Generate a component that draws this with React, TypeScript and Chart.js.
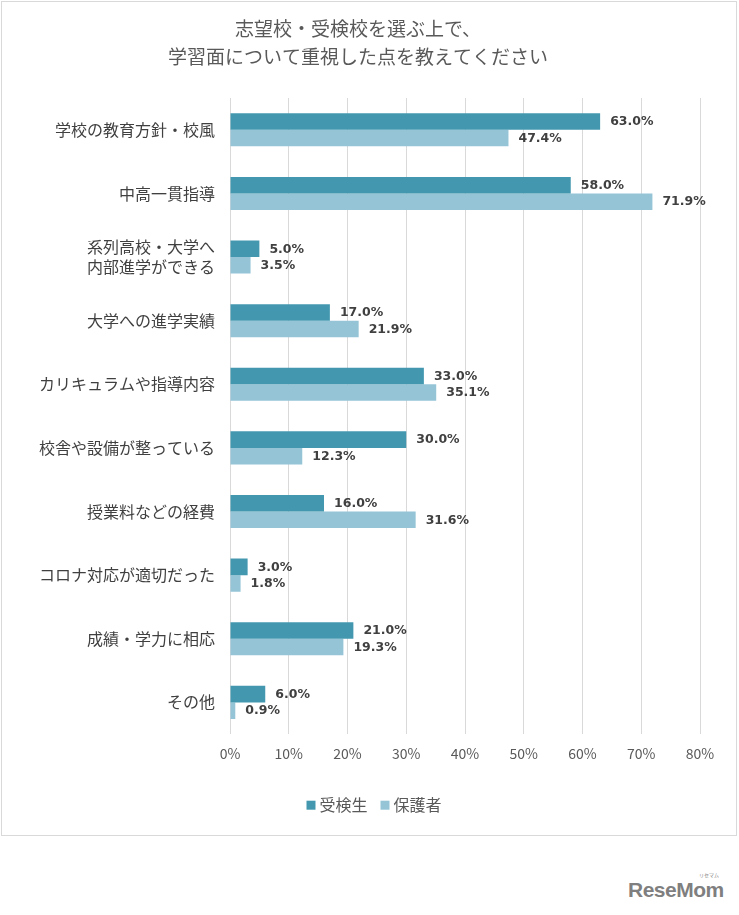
import React, { useEffect, useRef } from "react";
import { Chart, registerables } from "chart.js";

Chart.register(...registerables);

const titleLines = ["志望校・受検校を選ぶ上で、", "学習面について重視した点を教えてください"];
const categories: (string | string[])[] = [
  "学校の教育方針・校風",
  "中高一貫指導",
  ["系列高校・大学へ", "内部進学ができる"],
  "大学への進学実績",
  "カリキュラムや指導内容",
  "校舎や設備が整っている",
  "授業料などの経費",
  "コロナ対応が適切だった",
  "成績・学力に相応",
  "その他",
];
const seriesNames = ["受検生", "保護者"];
const examinees = [63.0, 58.0, 5.0, 17.0, 33.0, 30.0, 16.0, 3.0, 21.0, 6.0];
const guardians = [47.4, 71.9, 3.5, 21.9, 35.1, 12.3, 31.6, 1.8, 19.3, 0.9];
const xMin = 0;
const xMax = 80;
const xStep = 10;

const DARK = "#4398b0";
const LIGHT = "#94c4d6";
const JP = "'Noto Sans CJK JP', 'Noto Sans', sans-serif";

const valueLabels = {
  id: "valueLabels",
  afterDatasetsDraw(chart: any) {
    const ctx = chart.ctx;
    ctx.save();
    ctx.font = "bold 12.5px 'DejaVu Sans', sans-serif";
    ctx.fillStyle = "#404040";
    ctx.textAlign = "left";
    ctx.textBaseline = "middle";
    chart.data.datasets.forEach((ds: any, di: number) => {
      const meta = chart.getDatasetMeta(di);
      meta.data.forEach((bar: any, i: number) => {
        const v = ds.data[i] as number;
        ctx.fillText(v.toFixed(1) + "%", bar.x + 10, bar.y + 0.5);
      });
    });
    ctx.restore();
  },
};

const customLegend = {
  id: "customLegend",
  afterDraw(chart: any) {
    const ctx = chart.ctx;
    const area = chart.chartArea;
    ctx.save();
    ctx.font = "16px " + JP;
    ctx.textBaseline = "middle";
    ctx.textAlign = "left";
    const box = 9;
    const gapBoxText = 4;
    const gapItems = 13;
    const items = chart.data.datasets.map((ds: any) => ({
      text: ds.label as string,
      color: ds.backgroundColor as string,
      w: ctx.measureText(ds.label).width,
    }));
    const total =
      items.reduce((s: number, it: any) => s + box + gapBoxText + it.w, 0) + gapItems * (items.length - 1);
    const cx = 374;
    const cy = area.bottom + 71;
    let x = cx - total / 2;
    items.forEach((it: any) => {
      ctx.fillStyle = it.color;
      ctx.fillRect(x, cy - box / 2, box, box);
      x += box + gapBoxText;
      ctx.fillStyle = "#595959";
      ctx.fillText(it.text, x, cy);
      x += it.w + gapItems;
    });
    ctx.restore();
  },
};

const shiftBlocks = {
  id: "shiftBlocks",
  afterLayout(chart: any) {
    if (chart.titleBlock) {
      chart.titleBlock.left += 8;
      chart.titleBlock.right += 8;
    }
  },
};

export default function App() {
  const ref = useRef<HTMLCanvasElement>(null);
  useEffect(() => {
    if (!ref.current) return;
    const chart = new Chart(ref.current, {
      type: "bar",
      data: {
        labels: categories,
        datasets: [
          {
            label: seriesNames[0],
            data: examinees,
            backgroundColor: DARK,
            borderWidth: 0,
            categoryPercentage: 0.52,
            barPercentage: 1.0,
          },
          {
            label: seriesNames[1],
            data: guardians,
            backgroundColor: LIGHT,
            borderWidth: 0,
            categoryPercentage: 0.52,
            barPercentage: 1.0,
          },
        ],
      },
      options: {
        indexAxis: "y",
        responsive: false,
        animation: false,
        devicePixelRatio: 1,
        layout: { padding: { left: 0, right: 39, top: 0, bottom: 62 } },
        scales: {
          x: {
            min: xMin,
            max: xMax,
            ticks: {
              stepSize: xStep,
              callback: (v: any) => v + "%",
              color: "#595959",
              font: { family: JP, size: 14 },
              padding: 11,
            },
            grid: { color: "#d9d9d9", drawTicks: false, lineWidth: 1 },
            border: { display: false },
          },
          y: {
            ticks: {
              color: "#404040",
              font: { family: JP, size: 16, lineHeight: 1.25 },
              padding: 15,
            },
            grid: { display: false, drawTicks: false },
            border: { display: false },
            afterFit: (scale: any) => {
              scale.width = 230;
            },
          },
        },
        plugins: {
          title: {
            display: true,
            text: titleLines,
            color: "#595959",
            font: { family: JP, size: 19, weight: "normal", lineHeight: 28 / 19 },
            padding: { top: 15, bottom: 27 },
          },
          legend: { display: false },
          tooltip: { enabled: false },
        },
      } as any,
      plugins: [valueLabels, customLegend, shiftBlocks],
    });
    return () => chart.destroy();
  }, []);

  return (
    <div style={{ position: "absolute", left: 0, top: 0, width: 739, height: 915, background: "#fff", overflow: "hidden" }}>
      <div
        style={{
          position: "absolute",
          left: 1,
          top: 1,
          width: 736,
          height: 835,
          border: "1px solid #d9d9d9",
          boxSizing: "border-box",
        }}
      />
      <canvas ref={ref} width={739} height={835} style={{ position: "absolute", left: 0, top: 0 }} />
      <div
        style={{
          position: "absolute",
          left: 628,
          top: 877,
          fontFamily: "'Liberation Sans', Arial, sans-serif",
          fontWeight: "bold",
          fontSize: 21,
          color: "#7f7f7f",
          lineHeight: "26px",
          letterSpacing: -0.5,
        }}
      >
        ReseMom
      </div>
      <div
        style={{
          position: "absolute",
          left: 699,
          top: 872,
          fontFamily: JP,
          fontSize: 5,
          color: "#7f7f7f",
          lineHeight: "6px",
        }}
      >
        リセマム
      </div>
    </div>
  );
}
